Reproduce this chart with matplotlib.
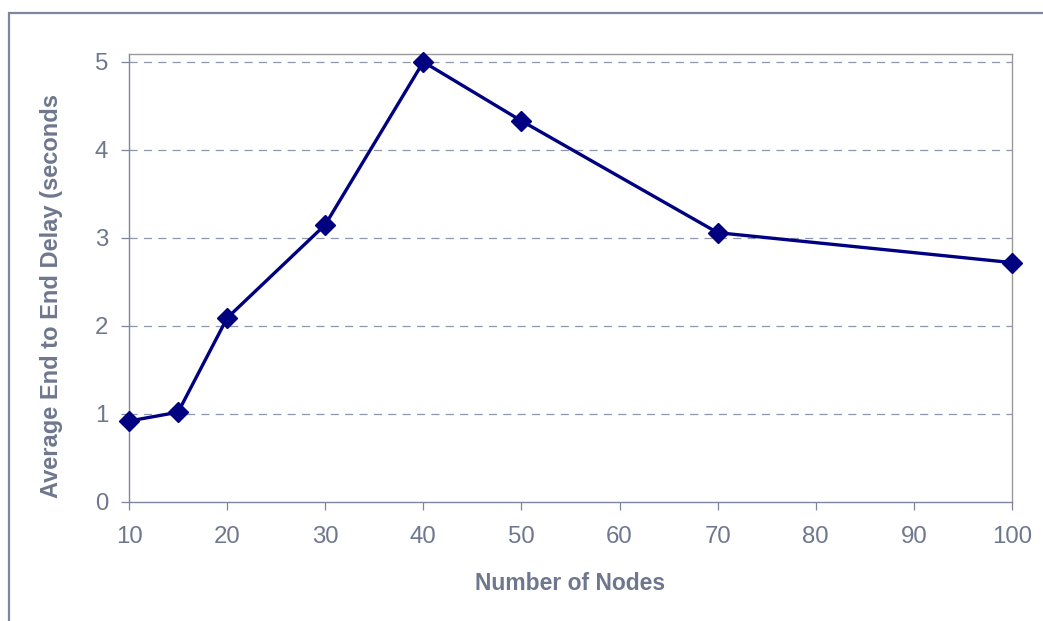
import matplotlib
matplotlib.use("Agg")
import matplotlib.pyplot as plt
from matplotlib.patches import Rectangle

# average end-to-end delay per network size
nodes = [10, 15, 20, 30, 40, 50, 70, 100]
delay = [0.92, 1.02, 2.09, 3.15, 5.0, 4.33, 3.06, 2.72]
x_ticks = [10, 20, 30, 40, 50, 60, 70, 80, 90, 100]
y_ticks = [0, 1, 2, 3, 4, 5]

axis_col = "#7d869c"
text_col = "#6e778d"

plt.rcParams["font.family"] = ["Liberation Sans", "DejaVu Sans"]

W, H = 1043, 621
fig = plt.figure(figsize=(W / 100, H / 100), dpi=100)
ax = fig.add_axes([129 / W, 1 - 502 / H, (1012 - 129) / W, (502 - 54) / H])

# outer chart frame, running off the right and bottom edges
top = 1 - 13 / H
fig.patches.append(Rectangle((9 / W, -0.2), 1.2, top + 0.2,
                             transform=fig.transFigure, fill=False,
                             edgecolor=axis_col, linewidth=1.6))

for y in y_ticks[1:]:
    ax.axhline(y, color="#8e97ab", linewidth=0.9, linestyle=(0, (6.5, 5)), zorder=1)

ax.plot(nodes, delay, color="#000080", linewidth=2.4, marker="D",
        markersize=10.5, markeredgewidth=1, zorder=3, clip_on=False)

ax.set_xlim(10, 100)
ax.set_ylim(0, 5.09)
ax.set_xticks(x_ticks)
ax.set_yticks(y_ticks)
ax.tick_params(axis="both", direction="out", length=6, width=0.9,
               color=axis_col, labelcolor=text_col, labelsize=17.3)
ax.tick_params(axis="y", pad=9)
ax.tick_params(axis="x", pad=11)

ax.spines["left"].set_color(axis_col)
ax.spines["bottom"].set_color(axis_col)
ax.spines["top"].set_color("#999999")
ax.spines["right"].set_color("#999999")
for s in ax.spines.values():
    s.set_linewidth(1.0)

fig.text(570 / W, 1 - 583 / H, "Number of Nodes", fontsize=16.5, fontweight="bold",
         color=text_col, ha="center", va="center")
fig.text(52 / W, 1 - 296 / H, "Average End to End Delay (seconds", fontsize=17,
         fontweight="bold", color=text_col, ha="center", va="center", rotation=90)

fig.savefig("out.png", dpi=100)
